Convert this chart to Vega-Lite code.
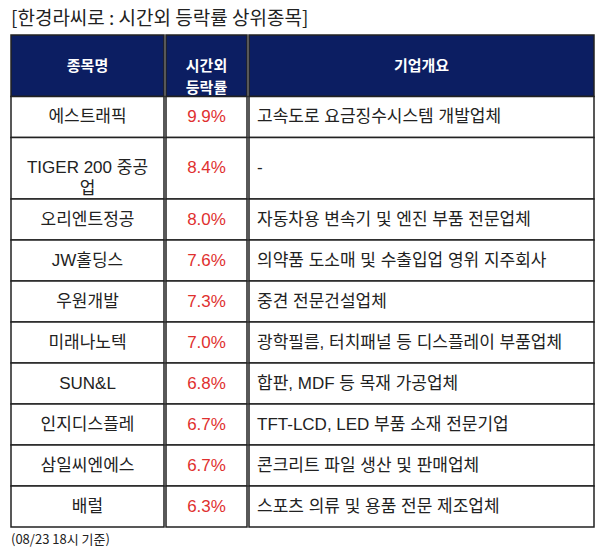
{
  "$schema": "https://vega.github.io/schema/vega-lite/v6.json",
  "autosize": {"type": "pad"},
  "padding": {"left": 10, "top": 10, "right": 10, "bottom": 4},
  "background": "white",
  "title": {
    "text": "[한경라씨로 : 시간외 등락률 상위종목]",
    "anchor": "start",
    "frame": "group",
    "fontSize": 19,
    "fontWeight": "normal",
    "font": "Noto Sans CJK KR",
    "color": "#222222",
    "offset": 5
  },
  "data": {
    "values": [
      {"rank": 1, "name": "에스트래픽", "rate": 0.099, "desc": "고속도로 요금징수시스템 개발업체"},
      {"rank": 2, "name": "TIGER 200 중공\n업", "rate": 0.084, "desc": "-"},
      {"rank": 3, "name": "오리엔트정공", "rate": 0.080, "desc": "자동차용 변속기 및 엔진 부품 전문업체"},
      {"rank": 4, "name": "JW홀딩스", "rate": 0.076, "desc": "의약품 도소매 및 수출입업 영위 지주회사"},
      {"rank": 5, "name": "우원개발", "rate": 0.073, "desc": "중견 전문건설업체"},
      {"rank": 6, "name": "미래나노텍", "rate": 0.070, "desc": "광학필름, 터치패널 등 디스플레이 부품업체"},
      {"rank": 7, "name": "SUN&L", "rate": 0.068, "desc": "합판, MDF 등 목재 가공업체"},
      {"rank": 8, "name": "인지디스플레", "rate": 0.067, "desc": "TFT-LCD, LED 부품 소재 전문기업"},
      {"rank": 9, "name": "삼일씨엔에스", "rate": 0.067, "desc": "콘크리트 파일 생산 및 판매업체"},
      {"rank": 10, "name": "배럴", "rate": 0.063, "desc": "스포츠 의류 및 용품 전문 제조업체"}
    ]
  },
  "transform": [
    {"calculate": "length(split(datum.name, '\\n')) + 1", "as": "units"},
    {"window": [{"op": "sum", "field": "units", "as": "cum"}], "sort": [{"field": "rank"}]},
    {"calculate": "datum.cum + 3", "as": "y1"},
    {"calculate": "datum.y1 - datum.units", "as": "y0"},
    {"calculate": "(datum.y0 + datum.y1) / 2", "as": "yc"}
  ],
  "spacing": 0,
  "hconcat": [
    {
      "width": 153,
      "height": 492,
      "layer": [
        {
          "data": {"values": [{}]},
          "mark": {"type": "rect", "fill": "#0c1e62", "stroke": "#222222", "strokeWidth": 1.5},
          "encoding": {
            "x": {"datum": 0, "type": "quantitative", "scale": {"domain": [0, 1]}, "axis": null},
            "x2": {"datum": 1},
            "y": {"datum": 0, "type": "quantitative", "scale": {"domain": [0, 24], "reverse": true}, "axis": null},
            "y2": {"datum": 3}
          }
        },
        {
          "data": {"values": [{}]},
          "mark": {"type": "text", "color": "white", "fontWeight": "bold", "fontSize": 15, "font": "Arial, Noto Sans CJK KR"},
          "encoding": {
            "x": {"datum": 0.5, "type": "quantitative", "scale": {"domain": [0, 1]}, "axis": null},
            "y": {"datum": 1.5, "type": "quantitative", "scale": {"domain": [0, 24], "reverse": true}, "axis": null},
            "text": {"value": "종목명"}
          }
        },
        {
          "mark": {"type": "rect", "fill": "white", "stroke": "#222222", "strokeWidth": 1.5},
          "encoding": {
            "x": {"datum": 0, "type": "quantitative", "scale": {"domain": [0, 1]}, "axis": null},
            "x2": {"datum": 1},
            "y": {"field": "y0", "type": "quantitative", "scale": {"domain": [0, 24], "reverse": true}, "axis": null},
            "y2": {"field": "y1"}
          }
        },
        {
          "mark": {"type": "text", "lineBreak": "\n", "lineHeight": 21, "fontSize": 17, "font": "Arial, Noto Sans CJK KR", "color": "#222222"},
          "encoding": {
            "x": {"datum": 0.5, "type": "quantitative", "scale": {"domain": [0, 1]}, "axis": null},
            "y": {"field": "yc", "type": "quantitative", "scale": {"domain": [0, 24], "reverse": true}, "axis": null},
            "text": {"field": "name", "type": "nominal"}
          }
        },
        {
          "data": {"values": [{}]},
          "mark": {"type": "text", "align": "left", "baseline": "middle", "dy": 13, "fontSize": 13, "font": "Noto Sans CJK KR", "color": "#222222"},
          "encoding": {
            "x": {"datum": 0, "type": "quantitative", "scale": {"domain": [0, 1]}, "axis": null},
            "y": {"datum": 24, "type": "quantitative", "scale": {"domain": [0, 24], "reverse": true}, "axis": null},
            "text": {"value": "(08/23 18시 기준)"}
          }
        }
      ]
    },
    {
      "width": 81,
      "height": 492,
      "layer": [
        {
          "data": {"values": [{}]},
          "mark": {"type": "rect", "fill": "#0c1e62", "stroke": "#222222", "strokeWidth": 1.5},
          "encoding": {
            "x": {"datum": 0, "type": "quantitative", "scale": {"domain": [0, 1]}, "axis": null},
            "x2": {"datum": 1},
            "y": {"datum": 0, "type": "quantitative", "scale": {"domain": [0, 24], "reverse": true}, "axis": null},
            "y2": {"datum": 3}
          }
        },
        {
          "data": {"values": [{}]},
          "mark": {"type": "text", "color": "white", "fontWeight": "bold", "fontSize": 15, "lineBreak": "\n", "lineHeight": 22, "font": "Arial, Noto Sans CJK KR"},
          "encoding": {
            "x": {"datum": 0.5, "type": "quantitative", "scale": {"domain": [0, 1]}, "axis": null},
            "y": {"datum": 1.5, "type": "quantitative", "scale": {"domain": [0, 24], "reverse": true}, "axis": null},
            "text": {"value": "시간외\n등락률"}
          }
        },
        {
          "mark": {"type": "rect", "fill": "white", "stroke": "#222222", "strokeWidth": 1.5},
          "encoding": {
            "x": {"datum": 0, "type": "quantitative", "scale": {"domain": [0, 1]}, "axis": null},
            "x2": {"datum": 1},
            "y": {"field": "y0", "type": "quantitative", "scale": {"domain": [0, 24], "reverse": true}, "axis": null},
            "y2": {"field": "y1"}
          }
        },
        {
          "mark": {"type": "text", "fontSize": 17, "font": "Arial, Noto Sans CJK KR", "color": "#e0302f"},
          "encoding": {
            "x": {"datum": 0.5, "type": "quantitative", "scale": {"domain": [0, 1]}, "axis": null},
            "y": {"field": "yc", "type": "quantitative", "scale": {"domain": [0, 24], "reverse": true}, "axis": null},
            "text": {"field": "rate", "type": "quantitative", "format": ".1%"}
          }
        }
      ]
    },
    {
      "width": 345,
      "height": 492,
      "layer": [
        {
          "data": {"values": [{}]},
          "mark": {"type": "rect", "fill": "#0c1e62", "stroke": "#222222", "strokeWidth": 1.5},
          "encoding": {
            "x": {"datum": 0, "type": "quantitative", "scale": {"domain": [0, 1]}, "axis": null},
            "x2": {"datum": 1},
            "y": {"datum": 0, "type": "quantitative", "scale": {"domain": [0, 24], "reverse": true}, "axis": null},
            "y2": {"datum": 3}
          }
        },
        {
          "data": {"values": [{}]},
          "mark": {"type": "text", "color": "white", "fontWeight": "bold", "fontSize": 15, "font": "Arial, Noto Sans CJK KR"},
          "encoding": {
            "x": {"datum": 0.5, "type": "quantitative", "scale": {"domain": [0, 1]}, "axis": null},
            "y": {"datum": 1.5, "type": "quantitative", "scale": {"domain": [0, 24], "reverse": true}, "axis": null},
            "text": {"value": "기업개요"}
          }
        },
        {
          "mark": {"type": "rect", "fill": "white", "stroke": "#222222", "strokeWidth": 1.5},
          "encoding": {
            "x": {"datum": 0, "type": "quantitative", "scale": {"domain": [0, 1]}, "axis": null},
            "x2": {"datum": 1},
            "y": {"field": "y0", "type": "quantitative", "scale": {"domain": [0, 24], "reverse": true}, "axis": null},
            "y2": {"field": "y1"}
          }
        },
        {
          "mark": {"type": "text", "align": "left", "dx": 8, "fontSize": 17, "font": "Arial, Noto Sans CJK KR", "color": "#222222"},
          "encoding": {
            "x": {"datum": 0, "type": "quantitative", "scale": {"domain": [0, 1]}, "axis": null},
            "y": {"field": "yc", "type": "quantitative", "scale": {"domain": [0, 24], "reverse": true}, "axis": null},
            "text": {"field": "desc", "type": "nominal"}
          }
        }
      ]
    }
  ],
  "config": {"view": {"stroke": null}}
}
